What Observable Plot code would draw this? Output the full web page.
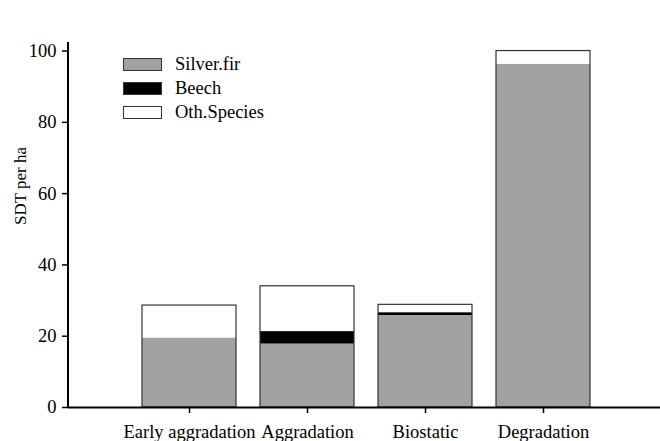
<!DOCTYPE html>
<html>
<head>
<meta charset="utf-8">
<script src="https://cdn.jsdelivr.net/npm/d3@7"></script>
<script src="https://cdn.jsdelivr.net/npm/@observablehq/plot@0.6"></script>
<style>
  html, body { margin: 0; padding: 0; background: #fff; }
  #wrap { position: relative; width: 660px; height: 441px; overflow: hidden; }
  #legend { position: absolute; left: 123px; top: 52px; font-family: "Liberation Serif", serif; font-size: 18.5px; color: #000; }
  .row { display: flex; align-items: center; height: 24.4px; }
  .sw { width: 37px; height: 11px; border: 1px solid #333; margin-right: 13px; }
</style>
</head>
<body>
<div id="wrap"></div>
<script>
const categories = ["Early aggradation", "Aggradation", "Biostatic", "Degradation"];
const species = ["Silver.fir", "Beech", "Oth.Species"];
const speciesColors = ["#a1a2a1", "#000000", "#ffffff"];
const silverFir = [19.5, 17.8, 25.8, 96.3];
const beech = [0, 3.5, 0.8, 0];
const othSpecies = [9.1, 12.7, 2.2, 3.7];
const yTicks = [0, 20, 40, 60, 80, 100];

const series = [silverFir, beech, othSpecies];
const long = [];
categories.forEach((c, i) => {
  species.forEach((s, j) => long.push({cat: c, species: s, value: series[j][i]}));
});
const totals = categories.map((c, i) => ({cat: c, total: silverFir[i] + beech[i] + othSpecies[i]}));

const chart = Plot.plot({
  width: 660,
  height: 441,
  marginLeft: 68,
  marginRight: 0,
  marginTop: 42,
  marginBottom: 34,
  style: {fontFamily: "Liberation Serif, serif", fontSize: "18.5px", background: "white", color: "black"},
  x: {domain: categories, range: [68, 664], paddingInner: 0.2, paddingOuter: 0.607, label: null},
  y: {domain: [0, 102.4], label: null},
  color: {domain: species, range: speciesColors},
  marks: [
    Plot.barY(long, {x: "cat", y: "value", fill: "species", inset: 0}),
    Plot.barY(totals, {x: "cat", y: "total", fill: "none", stroke: "#333", strokeWidth: 1.2, inset: 0}),
    Plot.axisY({ticks: yTicks, tickSize: 6, tickPadding: 6, strokeWidth: 1.5, label: null}),
    Plot.axisX({tickSize: 6, tickPadding: 11, strokeWidth: 1.5, label: null}),
    Plot.ruleY([0], {strokeWidth: 2}),
    Plot.text(["SDT per ha"], {frameAnchor: "left", dx: -48, rotate: -90, fontSize: 17})
  ]
});
document.getElementById("wrap").appendChild(chart);

// left axis line drawn from the plot's own y scale range
const yr = chart.scale("y").range;
d3.select(chart).append("line")
  .attr("x1", 68).attr("x2", 68)
  .attr("y1", yr[0] + 1).attr("y2", yr[1])
  .attr("stroke", "black").attr("stroke-width", 2);

const legend = document.createElement("div");
legend.id = "legend";
species.forEach((s, j) => {
  const row = document.createElement("div");
  row.className = "row";
  const sw = document.createElement("div");
  sw.className = "sw";
  sw.style.background = speciesColors[j];
  const t = document.createElement("span");
  t.textContent = s;
  row.appendChild(sw);
  row.appendChild(t);
  legend.appendChild(row);
});
document.getElementById("wrap").appendChild(legend);
</script>
</body>
</html>
